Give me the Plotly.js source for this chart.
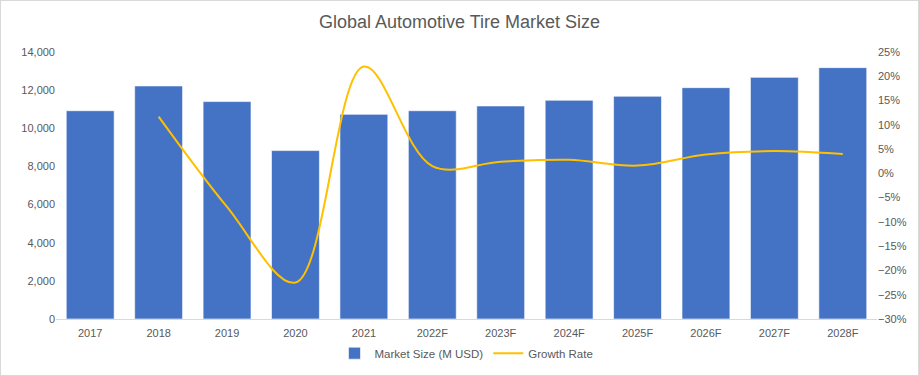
<!DOCTYPE html>
<html><head><meta charset="utf-8">
<script src="https://cdn.plot.ly/plotly-3.0.1.min.js"></script>
<style>html,body{margin:0;padding:0;background:#fff;}#chart{width:917px;height:374px;border:1px solid #d9d9d9;}</style>
</head><body><div id="chart"></div>
<script>
const categories = ["2017","2018","2019","2020","2021","2022F","2023F","2024F","2025F","2026F","2027F","2028F"];
const marketSize = [10920, 12220, 11400, 8830, 10730, 10920, 11170, 11470, 11680, 12130, 12670, 13180];
const growthRate = [null, 11.7, -6.9, -22.5, 22.0, 1.5, 2.4, 2.8, 1.6, 3.9, 4.6, 4.0];
const seriesNames = ["Market Size (M USD)", "Growth Rate"];

const font = {family: "Liberation Sans, Arial, sans-serif", color: "#595959", size: 11};
const data = [
  {type: "bar", x: categories, y: marketSize, name: seriesNames[0],
   marker: {color: "#4472C4", line: {color: "rgba(255,255,255,0.6)", width: 1}}, width: 0.7},
  {type: "scatter", mode: "lines", x: categories, y: growthRate, name: seriesNames[1], yaxis: "y2",
   line: {color: "#FFC000", width: 2, shape: "spline", smoothing: 1}, connectgaps: false}
];
const layout = {
  width: 917, height: 374,
  margin: {l: 55, r: 41, t: 51, b: 56, autoexpand: false},
  paper_bgcolor: "#fff", plot_bgcolor: "#fff",
  font: font,
  title: {text: "Global Automotive Tire Market Size", x: 0.5, xanchor: "center", y: 0.945, yanchor: "middle",
          font: {family: "Liberation Sans, Arial, sans-serif", size: 18, color: "#595959"}},
  showlegend: true,
  legend: {orientation: "h", x: 0.5, xanchor: "center", y: -0.128, yanchor: "middle", font: {size: 11.5, color: "#595959"}, traceorder: "normal", itemwidth: 30},
  bargap: 0.3,
  xaxis: {type: "category", showgrid: false, showline: true, linecolor: "#d9d9d9", linewidth: 1, ticks: "", ticklabelstandoff: 4, tickfont: {size: 11, color: "#595959"}, fixedrange: true},
  yaxis: {range: [0, 14000], dtick: 2000, tickformat: ",d", showgrid: false, zeroline: false, showline: false, ticks: "", tickfont: {size: 11, color: "#595959"}},
  yaxis2: {overlaying: "y", side: "right", range: [-30, 25], dtick: 5, ticksuffix: "%", showgrid: false, zeroline: false, showline: false, ticks: "", tickfont: {size: 11, color: "#595959"}}
};
Plotly.newPlot("chart", data, layout, {displayModeBar: false, staticPlot: true});
</script></body></html>
